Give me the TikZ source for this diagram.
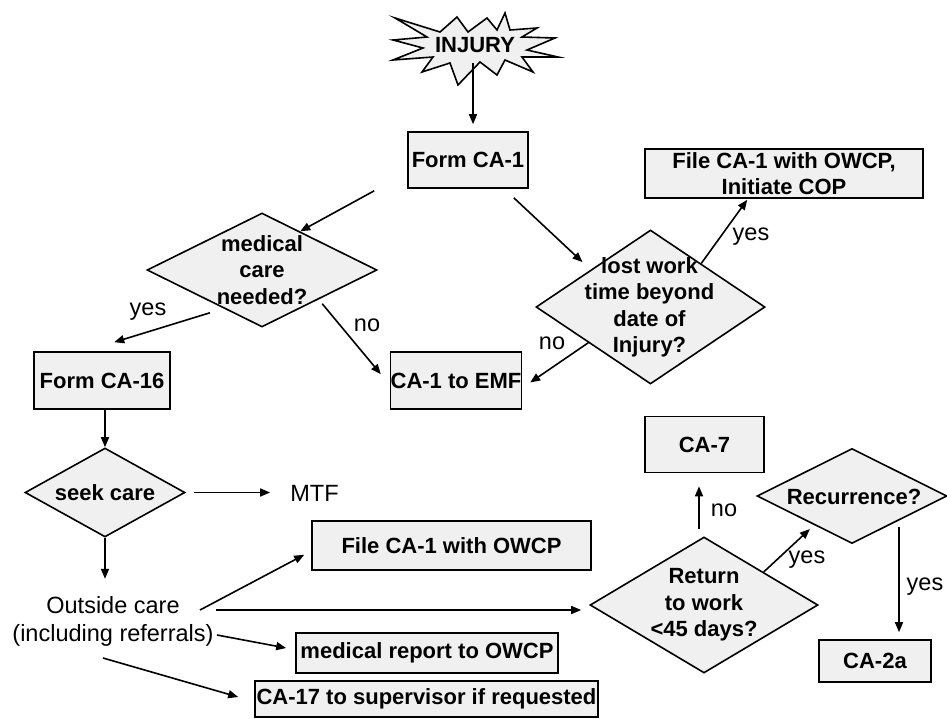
\documentclass[tikz,border=0pt]{standalone}
\usepackage{fontspec}
\setmainfont{Liberation Sans}
\usetikzlibrary{shapes.geometric,arrows.meta,calc}
\begin{document}
\begin{tikzpicture}[x=1pt,y=-1pt,
 boxn/.style={draw, line width=1.6pt, fill=black!6, inner sep=0pt, font=\bfseries\fontsize{22}{26}\selectfont, align=center},
 dia/.style={draw, line width=1.6pt, fill=black!6, diamond, inner sep=0pt},
 dtext/.style={font=\bfseries\fontsize{22}{26.5}\selectfont, align=center, inner sep=0pt},
 lab/.style={font=\fontsize{23.5}{28}\selectfont, inner sep=0pt},
 arr/.style={line width=1.6pt, -{Triangle[length=10pt,width=8pt]}}]
\useasboundingbox (0,0) rectangle (947,718);

% starburst
\draw[line width=1.6pt, fill=black!6, line join=miter]
 (395,18) -- (440,32) -- (457,17) -- (468,32) -- (487,18) -- (497,30) -- (505,13)
 -- (510,30) -- (537,28) -- (522,37) -- (555,38) -- (527,50) -- (558,57) -- (522,57)
 -- (533,72) -- (505,60) -- (497,75) -- (480,62) -- (458,85) -- (450,63) -- (422,72)
 -- (433,57) -- (393,60) -- (423,48) -- (393,40) -- (427,37) -- cycle;
\node[dtext] (injury) at (475,45) {INJURY};
\coordinate (injb) at (473,63);

% boxes
\node[boxn, minimum width=120, minimum height=56] (formca1) at (468,160) {Form CA-1};
\node[boxn, minimum width=136, minimum height=57] (formca16) at (102,380.5) {Form CA-16};
\node[boxn, minimum width=128, minimum height=57] (emf) at (456,380.5) {CA-1 to EMF};
\node[boxn, minimum width=278, minimum height=49] (cop) at (784,173.5) {File CA-1 with OWCP,\\Initiate COP};
\node[boxn, minimum width=279, minimum height=49] (fileca1) at (451.5,545.5) {File CA-1 with OWCP};
\node[boxn, minimum width=262, minimum height=40] (medrep) at (427,653) {medical report to OWCP};
\node[boxn, minimum width=343, minimum height=36] (ca17) at (426.5,699) {CA-17 to supervisor if requested};
\node[boxn, minimum width=119, minimum height=56] (ca7) at (704.5,444.5) {CA-7};
\node[boxn, minimum width=112, minimum height=42] (ca2a) at (875,661) {CA-2a};

% diamonds
\node[dia, minimum width=230, minimum height=114] (medical) at (262,270) {};
\node[dtext] (medicalt) at (medical) {medical\\care\\needed?};
\node[dia, minimum width=229, minimum height=154] (lost) at (650.5,307) {};
\node[dtext] (lostt) at (649.5,307.5) {lost work\\time beyond\\date of\\Injury?};
\node[dia, minimum width=160, minimum height=89] (seek) at (105,492.5) {};
\node[dtext] (seekt) at (seek) {seek care};
\node[dia, minimum width=228, minimum height=136] (ret) at (704,605) {};
\node[dtext] (rett) at (ret) {Return\\to work\\<45 days?};
\node[dia, minimum width=190, minimum height=95] (rec) at (852,496) {};
\node[dtext] (rect) at (854,497) {Recurrence?};

% plain texts
\node[lab] (mtf) at (314.5,493) {MTF};
\node[lab, align=center] (outside) at (113,621) {Outside care\\(including referrals)};

% labels
\node[lab] (l1) at (148,312) {yes};
\node[lab] (l2) at (367,325) {no};
\node[lab] (l3) at (751,237) {yes};
\node[lab] (l4) at (552,343) {no};
\node[lab] (l5) at (724,510) {no};
\node[lab] (l6) at (807,560) {yes};
\node[lab] (l7) at (925,587) {yes};

% connectors
\draw[arr, shorten >=7pt] (injb) -- (injb |- formca1.north);
\draw[arr] ($(formca1.south west)+(-33,2)$) -- ($(medical.north)!0.33!(medical.east)$);
\draw[arr] ($(formca1.south east)+(-15,9)$) -- ($(lost.north)!0.59!(lost.west)+(0,-13)$);
\draw[arr] ($(medical.west)!0.55!(medical.south)+(0,11)$) -- ($(formca16.north west)+(81,-9)$);
\draw[arr] ($(medical.south)!0.52!(medical.east)+(0,6)$) -- ($(emf.north west)+(-9,23)$);
\draw[arr] ($(lost.north)!0.44!(lost.east)$) -- ($(cop.south west)+(103,1)$);
\draw[arr] ($(lost.west)!0.46!(lost.south)$) -- ($(emf.east)+(8,2)$);
\draw[arr] (seek.north |- formca16.south) -- (seek.north);
\draw[arr, shorten <=8pt, shorten >=20pt] (seek.east) -- (seek.east -| mtf.west);
\draw[arr] (seek.south) -- ($(seek.south)+(0,41)$);
\draw[arr] ($(outside.center)+(87,-11)$) -- ($(fileca1.south west)+(-7,-16)$);
\draw[arr] ($(outside.center)+(103,-11)$) -- ($(ret.west)+(-8,5)$);
\draw[arr] ($(outside.center)+(104,14)$) -- ($(medrep.west)+(-9,-5)$);
\draw[arr] ($(outside.center)+(-10,37)$) -- ($(ca17.west)+(-16,-2)$);
\draw[arr] ($(ret.north)+(-5,-7)$) -- ($(ca7.south)+(-5.5,13)$);
\draw[arr] ($(ret.north)!0.52!(ret.east)$) -- ($(rec.west)!0.56!(rec.south)+(0,6)$);
\draw[arr] ($(ca2a.north)+(24,-112)$) -- ($(ca2a.north)+(24,-7)$);
\end{tikzpicture}
\end{document}
